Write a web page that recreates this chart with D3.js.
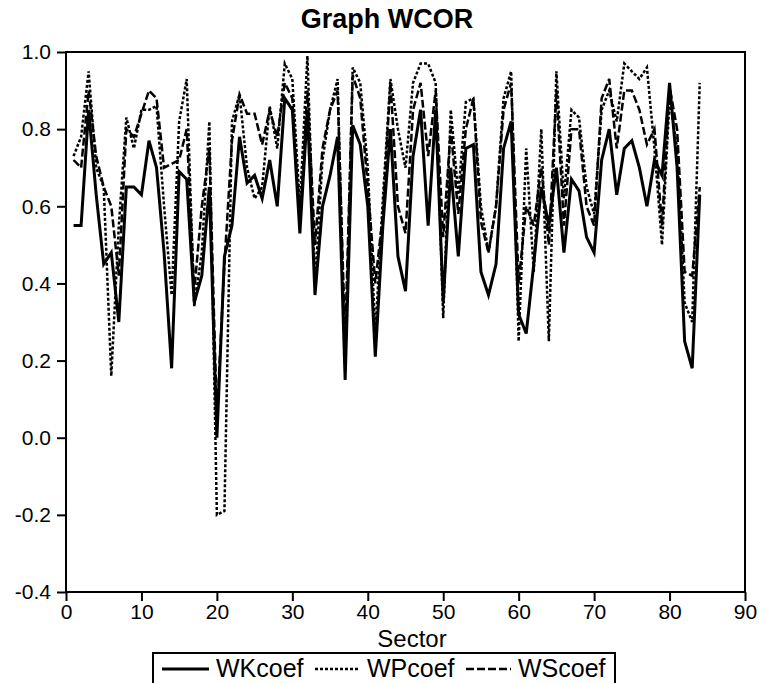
<!DOCTYPE html>
<html>
<head>
<meta charset="utf-8">
<script src="https://cdn.jsdelivr.net/npm/d3@7"></script>
<style>
	body { margin: 0; background: #fff; }
	text { font-family: "Liberation Sans", Arial, sans-serif; fill: #000; }
</style>
</head>
<body>
<div id="chart"><svg width="767" height="683"></svg></div>
<script>
var sectors = d3.range(1, 85);

var wkCoef = [0.55, 0.55, 0.85, 0.63, 0.45, 0.48, 0.30, 0.65, 0.65, 0.63,
	0.77, 0.70, 0.48, 0.18, 0.69, 0.67, 0.35, 0.42, 0.65, 0.00,
	0.47, 0.55, 0.78, 0.66, 0.68, 0.62, 0.72, 0.60, 0.88, 0.85,
	0.53, 0.85, 0.37, 0.60, 0.68, 0.78, 0.15, 0.81, 0.76, 0.60,
	0.21, 0.55, 0.80, 0.47, 0.38, 0.73, 0.85, 0.55, 0.85, 0.35,
	0.70, 0.47, 0.75, 0.76, 0.43, 0.37, 0.45, 0.75, 0.82, 0.32,
	0.27, 0.45, 0.65, 0.55, 0.70, 0.48, 0.67, 0.64, 0.52, 0.48,
	0.72, 0.80, 0.63, 0.75, 0.77, 0.70, 0.60, 0.72, 0.68, 0.92,
	0.70, 0.25, 0.18, 0.63];

var wpCoef = [0.73, 0.78, 0.95, 0.70, 0.65, 0.16, 0.55, 0.83, 0.75, 0.85,
	0.85, 0.86, 0.60, 0.37, 0.82, 0.93, 0.34, 0.48, 0.82, -0.20,
	-0.19, 0.82, 0.89, 0.70, 0.62, 0.65, 0.86, 0.75, 0.97, 0.93,
	0.60, 0.99, 0.40, 0.72, 0.85, 0.93, 0.18, 0.96, 0.92, 0.70,
	0.27, 0.62, 0.93, 0.80, 0.70, 0.92, 0.97, 0.97, 0.92, 0.31,
	0.85, 0.63, 0.87, 0.88, 0.60, 0.48, 0.60, 0.88, 0.95, 0.25,
	0.75, 0.43, 0.80, 0.25, 0.95, 0.62, 0.85, 0.83, 0.65, 0.58,
	0.85, 0.90, 0.82, 0.97, 0.95, 0.93, 0.96, 0.75, 0.50, 0.88,
	0.75, 0.35, 0.30, 0.92];

var wsCoef = [0.72, 0.70, 0.90, 0.73, 0.65, 0.60, 0.42, 0.80, 0.78, 0.84,
	0.90, 0.88, 0.70, 0.71, 0.72, 0.80, 0.38, 0.60, 0.75, 0.05,
	0.45, 0.77, 0.89, 0.84, 0.84, 0.76, 0.85, 0.78, 0.92, 0.88,
	0.55, 0.90, 0.50, 0.75, 0.85, 0.90, 0.25, 0.94, 0.88, 0.65,
	0.40, 0.58, 0.92, 0.60, 0.53, 0.85, 0.92, 0.73, 0.90, 0.52,
	0.80, 0.58, 0.80, 0.88, 0.56, 0.48, 0.60, 0.85, 0.92, 0.40,
	0.60, 0.55, 0.70, 0.50, 0.90, 0.55, 0.80, 0.80, 0.60, 0.55,
	0.88, 0.93, 0.75, 0.90, 0.90, 0.85, 0.76, 0.80, 0.55, 0.91,
	0.80, 0.43, 0.42, 0.65];

var xTicks = [0, 10, 20, 30, 40, 50, 60, 70, 80, 90];
var yTicks = [-0.4, -0.2, 0.0, 0.2, 0.4, 0.6, 0.8, 1.0];

var series = [
	{ name: 'WKcoef', values: wkCoef, dash: null, width: 3 },
	{ name: 'WPcoef', values: wpCoef, dash: '3,2', width: 2.5 },
	{ name: 'WScoef', values: wsCoef, dash: '8,3', width: 2.5 }
];

var margin = { top: 52, left: 66, bottom: 91, right: 22 };
var svg = d3.select('#chart > svg');
var width = 767 - margin.left - margin.right;
var height = 683 - margin.top - margin.bottom;

var xScale = d3.scaleLinear().domain([0, 90]).range([0, width]);
var yScale = d3.scaleLinear().domain([-0.4, 1.0]).range([height, 0]);

// title
svg.append('text')
	.attr('x', 387)
	.attr('y', 28)
	.attr('text-anchor', 'middle')
	.style('font-size', '27px')
	.style('font-weight', 'bold')
	.text('Graph WCOR');

var group = svg.append('g')
	.attr('transform', 'translate(' + [margin.left, margin.top] + ')');

// lines
var line = d3.line()
	.x(function(d, i) { return xScale(sectors[i]) })
	.y(function(d) { return yScale(d) });

group.selectAll('.series')
	.data(series)
	.enter()
	.append('path')
	.attr('class', 'series')
	.attr('d', function(d) { return line(d.values) })
	.attr('fill', 'none')
	.attr('stroke', '#000')
	.attr('stroke-width', function(d) { return d.width })
	.attr('stroke-dasharray', function(d) { return d.dash })
	.attr('stroke-linejoin', 'miter');

// frame
group.append('rect')
	.attr('width', width)
	.attr('height', height)
	.attr('fill', 'none')
	.attr('stroke', '#000')
	.attr('stroke-width', 2);

// axes
group.append('g')
	.attr('transform', 'translate(0,' + height + ')')
	.call(d3.axisBottom(xScale).tickValues(xTicks).tickSize(9).tickSizeOuter(0).tickPadding(3));
group.append('g')
	.call(d3.axisLeft(yScale).tickValues(yTicks).tickSize(9).tickSizeOuter(0).tickPadding(6)
		.tickFormat(function(d) { return d.toFixed(1) }));
group.selectAll('.domain').remove();
group.selectAll('.tick line').attr('stroke', '#000').attr('stroke-width', 2);
group.selectAll('.tick text')
	.style('font-family', '"Liberation Sans", Arial, sans-serif')
	.style('font-size', '21px')
	.attr('fill', '#000');

// x title
svg.append('text')
	.attr('x', 412)
	.attr('y', 647)
	.attr('text-anchor', 'middle')
	.style('font-size', '24px')
	.text('Sector');

// legend
var legend = svg.append('g').attr('transform', 'translate(153,653)');
legend.append('rect')
	.attr('width', 462)
	.attr('height', 50)
	.attr('fill', '#fff')
	.attr('stroke', '#000')
	.attr('stroke-width', 2);

var legendX = [9, 162, 313];
var items = legend.selectAll('.item')
	.data(series)
	.enter()
	.append('g')
	.attr('class', 'item')
	.attr('transform', function(d, i) { return 'translate(' + legendX[i] + ',16)' });
items.append('line')
	.attr('x1', 0)
	.attr('x2', function(d, i) { return i === 0 ? 47 : 45 })
	.attr('stroke', '#000')
	.attr('stroke-width', function(d) { return d.width })
	.attr('stroke-dasharray', function(d) { return d.dash });
items.append('text')
	.attr('x', function(d, i) { return i === 0 ? 54 : 52 })
	.attr('y', 8)
	.style('font-size', '25px')
	.text(function(d) { return d.name });
</script>
</body>
</html>
